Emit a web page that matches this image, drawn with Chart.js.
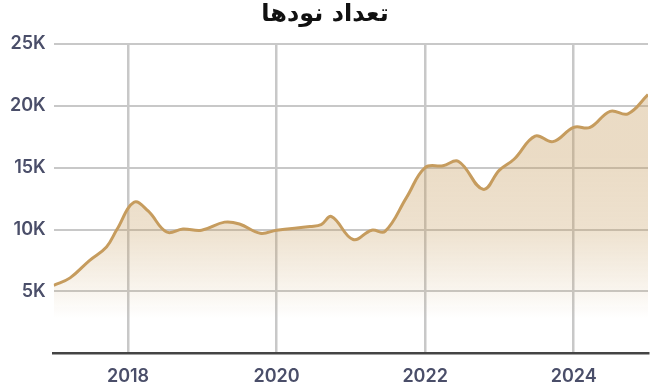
<!DOCTYPE html>
<html>
<head>
<meta charset="utf-8">
<script src="https://cdn.jsdelivr.net/npm/chart.js@4"></script>
<style>
  html, body { margin: 0; padding: 0; background: #fff; }
  #wrap { width: 654px; height: 389px; position: relative; }
</style>
</head>
<body>
<div id="wrap"><canvas id="nodes"></canvas></div>
<script>
// year (fractional) and node count
const years = [2017.0, 2017.22, 2017.48, 2017.71, 2017.85, 2018.08, 2018.27, 2018.52, 2018.74, 2018.99,
  2019.3, 2019.5, 2019.78, 2020.0, 2020.45, 2020.6, 2020.74, 2021.03, 2021.28, 2021.46,
  2021.75, 2022.0, 2022.24, 2022.45, 2022.78, 2023.0, 2023.2, 2023.48, 2023.72, 2024.0,
  2024.22, 2024.49, 2024.73, 2025.0];
const nodeCounts = [5500, 6100, 7500, 8600, 10000, 12200, 11500, 9800, 10050, 9950,
  10600, 10450, 9700, 9950, 10250, 10400, 11050, 9200, 9950, 9850,
  12600, 15000, 15150, 15500, 13250, 14800, 15700, 17550, 17100, 18250,
  18250, 19550, 19350, 20900];
const yTicks = [0, 5000, 10000, 15000, 20000, 25000];
const titleText = "تعداد نودها";

const lineColor = "#c69c5e";
const gridColor = "#c8c8c8";
const tickColor = "#4a4e69";

function fillGradient(context){
  const chart = context.chart;
  const area = chart.chartArea;
  if(!area) return "rgba(198,156,94,0.3)";
  const y = chart.scales.y;
  const top = y.getPixelForValue(16000);
  const bottom = y.getPixelForValue(2800);
  const g = chart.ctx.createLinearGradient(0, top, 0, bottom);
  g.addColorStop(0, "rgba(198,156,94,0.36)");
  g.addColorStop(0.45, "rgba(198,156,94,0.3)");
  g.addColorStop(0.83, "rgba(198,156,94,0.1)");
  g.addColorStop(1, "rgba(198,156,94,0)");
  return g;
}

const points = years.map((x, i) => ({x: x, y: nodeCounts[i]}));

new Chart(document.getElementById("nodes"), {
  type: "line",
  data: {
    datasets: [{
      data: points,
      borderColor: lineColor,
      borderWidth: 3,
      backgroundColor: fillGradient,
      fill: "origin",
      tension: 0.4,
      pointRadius: 0
    }]
  },
  options: {
    responsive: true,
    maintainAspectRatio: false,
    animation: false,
    layout: { padding: { left: 2, right: 6, top: 0, bottom: -10 } },
    plugins: {
      legend: { display: false },
      tooltip: { enabled: false },
      title: {
        display: true,
        text: titleText,
        color: "#111",
        font: { family: "'DejaVu Sans', sans-serif", size: 24, weight: "bold" },
        padding: { top: 0, bottom: 15 }
      }
    },
    scales: {
      x: {
        type: "linear",
        min: 2017,
        max: 2025,
        afterFit: axis => { axis.paddingRight = 0; },
        ticks: {
          stepSize: 1,
          autoSkip: false,
          maxRotation: 0,
          color: tickColor,
          padding: 12,
          font: { family: "Inter", size: 18, weight: "600" },
          callback: v => (v % 2 === 0 ? String(v) : "")
        },
        grid: {
          drawTicks: false,
          lineWidth: 2.5,
          color: c => (c.tick && c.tick.value % 2 === 0 ? gridColor : "rgba(0,0,0,0)")
        },
        border: { display: true, color: "#444", width: 2.5 }
      },
      y: {
        min: 0,
        max: 25000,
        afterBuildTicks: axis => { axis.ticks = yTicks.map(v => ({value: v})); },
        ticks: {
          color: tickColor,
          padding: 8,
          font: { family: "Inter", size: 18, weight: "600" },
          callback: v => (v === 0 ? "" : (v / 1000) + "K")
        },
        grid: { drawTicks: false, lineWidth: 2, color: gridColor },
        border: { display: false }
      }
    }
  }
});
</script>
</body>
</html>
